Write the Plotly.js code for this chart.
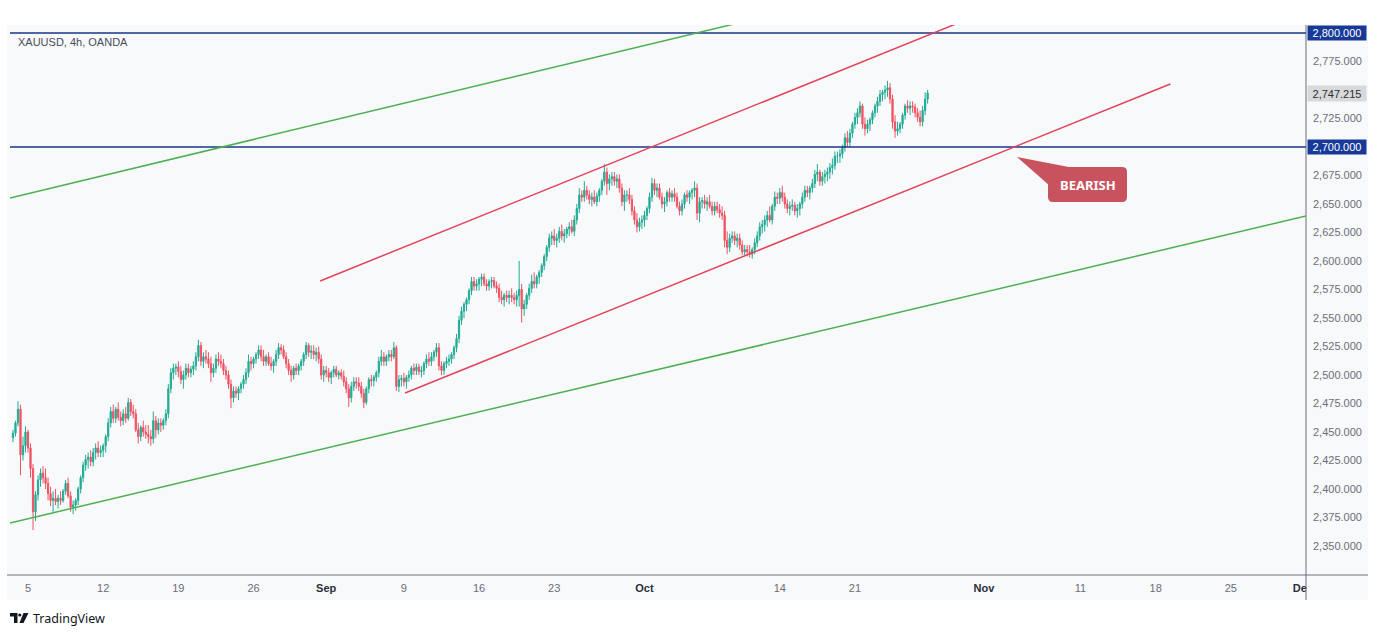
<!DOCTYPE html>
<html><head><meta charset="utf-8">
<script src="https://cdn.plot.ly/plotly-3.0.1.min.js"></script>
<style>html,body{margin:0;padding:0;background:#fff}#chart{width:1378px;height:635px}</style>
</head><body><div id="chart"></div>
<script>
// ---------- DATA ----------
const tradingDays = [
 "2024-08-02",
 "2024-08-05","2024-08-06","2024-08-07","2024-08-08","2024-08-09",
 "2024-08-12","2024-08-13","2024-08-14","2024-08-15","2024-08-16",
 "2024-08-19","2024-08-20","2024-08-21","2024-08-22","2024-08-23",
 "2024-08-26","2024-08-27","2024-08-28","2024-08-29","2024-08-30",
 "2024-09-02","2024-09-03","2024-09-04","2024-09-05","2024-09-06",
 "2024-09-09","2024-09-10","2024-09-11","2024-09-12","2024-09-13",
 "2024-09-16","2024-09-17","2024-09-18","2024-09-19","2024-09-20",
 "2024-09-23","2024-09-24","2024-09-25","2024-09-26","2024-09-27",
 "2024-09-30","2024-10-01","2024-10-02","2024-10-03","2024-10-04",
 "2024-10-07","2024-10-08","2024-10-09","2024-10-10","2024-10-11",
 "2024-10-14","2024-10-15","2024-10-16","2024-10-17","2024-10-18",
 "2024-10-21","2024-10-22","2024-10-23","2024-10-24","2024-10-25"
];
const barHours = ["00:00","04:00","08:00","12:00","16:00","20:00"];

const openP = [
 2445,2449,2458,2470,2430,2438,
 2450,2436,2418,2380,2395,2408,
 2414,2410,2405,2396,2390,2392,
 2389,2392,2390,2398,2405,2394,
 2384,2386,2390,2400,2410,2421,
 2426,2428,2424,2432,2436,2432,
 2434,2438,2446,2458,2468,2462,
 2470,2463,2460,2466,2462,2476,
 2468,2466,2452,2446,2454,2450,
 2448,2446,2444,2460,2452,2458,
 2456,2460,2466,2488,2502,2506,
 2507,2503,2496,2500,2506,2502,
 2505,2508,2516,2526,2512,2516,
 2514,2510,2502,2506,2514,2512,
 2510,2504,2500,2492,2480,2486,
 2484,2488,2492,2496,2502,2512,
 2510,2514,2518,2522,2516,2512,
 2516,2510,2508,2512,2518,2524,
 2522,2516,2510,2504,2500,2506,
 2504,2508,2512,2518,2526,2520,
 2521,2518,2520,2514,2500,2504,
 2502,2498,2502,2505,2500,2502,
 2499,2494,2488,2480,2490,2494,
 2493,2490,2484,2476,2488,2496,
 2495,2498,2502,2512,2516,2512,
 2516,2518,2516,2524,2490,2496,
 2497,2494,2498,2500,2506,2504,
 2507,2503,2504,2510,2514,2512,
 2516,2520,2524,2508,2504,2510,
 2512,2514,2518,2524,2532,2548,
 2556,2562,2566,2574,2582,2578,
 2580,2584,2586,2580,2578,2582,
 2583,2578,2576,2568,2566,2570,
 2568,2570,2568,2566,2570,2575,
 2558,2562,2570,2576,2582,2580,
 2586,2590,2596,2604,2612,2620,
 2622,2618,2620,2626,2622,2624,
 2628,2630,2626,2636,2646,2658,
 2656,2662,2658,2654,2656,2652,
 2657,2662,2670,2678,2668,2672,
 2674,2670,2672,2664,2652,2658,
 2658,2654,2644,2636,2630,2634,
 2636,2640,2646,2656,2668,2662,
 2664,2656,2650,2652,2660,2656,
 2659,2656,2648,2644,2650,2658,
 2656,2660,2662,2664,2642,2652,
 2653,2650,2652,2648,2644,2648,
 2645,2642,2640,2618,2612,2620,
 2622,2618,2620,2614,2608,2610,
 2608,2606,2610,2616,2622,2630,
 2632,2636,2640,2636,2648,2656,
 2655,2660,2656,2650,2646,2648,
 2649,2644,2646,2650,2656,2662,
 2660,2664,2668,2676,2678,2670,
 2674,2676,2678,2682,2684,2692,
 2692,2694,2700,2708,2704,2712,
 2720,2726,2730,2736,2720,2716,
 2720,2724,2730,2736,2740,2746,
 2748,2750,2752,2742,2722,2714,
 2716,2720,2728,2736,2734,2736,
 2735,2730,2726,2722,2732,2742
];
const highP = [
 2452,2460,2477,2474,2446,2455,
 2452,2440,2422,2398,2412,2418,
 2420,2418,2410,2402,2398,2400,
 2395,2398,2400,2408,2410,2398,
 2390,2392,2402,2412,2424,2430,
 2432,2434,2436,2440,2442,2438,
 2440,2448,2462,2472,2474,2472,
 2476,2468,2470,2472,2480,2479,
 2474,2470,2458,2456,2460,2456,
 2456,2452,2468,2464,2462,2462,
 2462,2470,2492,2506,2510,2510,
 2512,2508,2504,2510,2510,2508,
 2512,2520,2531,2529,2520,2522,
 2520,2516,2510,2518,2520,2518,
 2514,2508,2504,2496,2490,2490,
 2490,2494,2500,2506,2518,2516,
 2516,2520,2526,2526,2522,2518,
 2520,2516,2514,2522,2528,2527,
 2526,2520,2514,2508,2508,2510,
 2510,2514,2520,2529,2528,2526,
 2526,2524,2525,2518,2508,2508,
 2506,2504,2508,2508,2504,2505,
 2504,2498,2492,2494,2498,2498,
 2498,2494,2488,2490,2498,2500,
 2500,2504,2516,2522,2520,2518,
 2522,2522,2529,2526,2500,2500,
 2502,2500,2504,2508,2510,2510,
 2510,2508,2512,2518,2520,2520,
 2522,2528,2528,2512,2512,2516,
 2518,2520,2526,2536,2552,2560,
 2564,2568,2576,2586,2586,2584,
 2586,2589,2589,2584,2584,2586,
 2586,2582,2580,2574,2572,2574,
 2574,2576,2572,2574,2600,2580,
 2566,2572,2580,2588,2590,2588,
 2592,2598,2606,2614,2624,2626,
 2628,2624,2630,2632,2628,2630,
 2634,2636,2640,2650,2664,2662,
 2670,2666,2662,2660,2662,2660,
 2664,2672,2685,2682,2676,2678,
 2678,2676,2676,2668,2662,2662,
 2664,2658,2648,2642,2638,2640,
 2644,2648,2660,2673,2672,2668,
 2668,2660,2656,2662,2664,2662,
 2664,2660,2652,2654,2660,2662,
 2662,2664,2670,2668,2656,2656,
 2658,2656,2658,2652,2652,2652,
 2650,2648,2644,2626,2624,2626,
 2626,2624,2624,2618,2614,2614,
 2614,2612,2620,2626,2634,2636,
 2640,2644,2648,2650,2661,2660,
 2664,2666,2660,2654,2652,2654,
 2652,2650,2652,2660,2666,2666,
 2666,2672,2680,2685,2680,2678,
 2680,2682,2686,2690,2696,2696,
 2698,2702,2712,2714,2716,2722,
 2730,2734,2740,2738,2726,2724,
 2726,2732,2738,2744,2750,2750,
 2754,2758,2756,2746,2728,2722,
 2722,2730,2738,2741,2740,2740,
 2738,2734,2732,2736,2748,2750
];
const lowP = [
 2441,2446,2455,2412,2425,2432,
 2432,2410,2364,2372,2390,2402,
 2405,2400,2390,2385,2380,2386,
 2383,2386,2388,2395,2392,2380,
 2378,2381,2386,2396,2406,2416,
 2418,2420,2420,2426,2428,2428,
 2428,2432,2442,2454,2458,2458,
 2460,2455,2456,2458,2460,2464,
 2462,2450,2440,2442,2446,2444,
 2440,2438,2440,2445,2448,2450,
 2452,2456,2462,2484,2496,2500,
 2498,2492,2488,2496,2498,2498,
 2500,2504,2512,2508,2506,2510,
 2506,2494,2498,2502,2508,2506,
 2500,2496,2488,2471,2476,2480,
 2478,2484,2488,2492,2498,2504,
 2506,2510,2514,2512,2508,2508,
 2508,2504,2502,2508,2514,2518,
 2514,2506,2500,2494,2496,2500,
 2500,2504,2508,2514,2516,2514,
 2514,2512,2510,2496,2494,2498,
 2494,2492,2498,2498,2496,2496,
 2490,2484,2472,2476,2486,2488,
 2486,2480,2471,2474,2484,2490,
 2490,2494,2498,2508,2508,2508,
 2512,2512,2514,2486,2485,2490,
 2490,2488,2494,2496,2500,2500,
 2500,2498,2500,2506,2508,2508,
 2512,2516,2504,2500,2500,2506,
 2508,2510,2514,2520,2528,2544,
 2550,2556,2562,2570,2574,2574,
 2574,2578,2578,2574,2574,2576,
 2576,2572,2564,2562,2560,2564,
 2562,2564,2562,2560,2560,2546,
 2552,2558,2566,2572,2576,2576,
 2580,2586,2592,2600,2608,2614,
 2614,2612,2616,2618,2616,2620,
 2622,2624,2622,2632,2642,2652,
 2652,2654,2650,2648,2650,2648,
 2652,2658,2666,2658,2662,2666,
 2666,2664,2660,2648,2644,2652,
 2650,2640,2632,2625,2626,2628,
 2630,2636,2642,2652,2658,2656,
 2654,2646,2643,2648,2652,2652,
 2652,2646,2640,2640,2646,2652,
 2650,2654,2656,2636,2634,2646,
 2646,2644,2646,2640,2640,2642,
 2638,2636,2612,2606,2608,2616,
 2614,2612,2610,2605,2604,2604,
 2603,2602,2606,2612,2618,2624,
 2626,2630,2634,2632,2644,2650,
 2650,2652,2646,2642,2640,2644,
 2640,2638,2640,2646,2652,2656,
 2654,2660,2664,2670,2666,2666,
 2668,2670,2672,2676,2680,2686,
 2686,2690,2696,2700,2700,2708,
 2716,2720,2726,2716,2710,2712,
 2714,2720,2726,2730,2736,2740,
 2742,2744,2738,2716,2708,2710,
 2712,2716,2724,2730,2728,2730,
 2726,2722,2718,2718,2728,2738
];
const closeP = [
 2449,2458,2470,2430,2438,2450,
 2436,2418,2380,2395,2408,2414,
 2410,2405,2396,2390,2392,2389,
 2392,2390,2398,2405,2394,2384,
 2386,2390,2400,2410,2421,2426,
 2428,2424,2432,2436,2432,2434,
 2438,2446,2458,2468,2462,2470,
 2463,2460,2466,2462,2476,2468,
 2466,2452,2446,2454,2450,2448,
 2446,2444,2460,2452,2458,2456,
 2460,2466,2488,2502,2506,2507,
 2503,2496,2500,2506,2502,2505,
 2508,2516,2526,2512,2516,2514,
 2510,2502,2506,2514,2512,2510,
 2504,2500,2492,2480,2486,2484,
 2488,2492,2496,2502,2512,2510,
 2514,2518,2522,2516,2512,2516,
 2510,2508,2512,2518,2524,2522,
 2516,2510,2504,2500,2506,2504,
 2508,2512,2518,2526,2520,2521,
 2518,2520,2514,2500,2504,2502,
 2498,2502,2505,2500,2502,2499,
 2494,2488,2480,2490,2494,2493,
 2490,2484,2476,2488,2496,2495,
 2498,2502,2512,2516,2512,2516,
 2518,2516,2524,2490,2496,2497,
 2494,2498,2500,2506,2504,2507,
 2503,2504,2510,2514,2512,2516,
 2520,2524,2508,2504,2510,2512,
 2514,2518,2524,2532,2548,2556,
 2562,2566,2574,2582,2578,2580,
 2584,2586,2580,2578,2582,2583,
 2578,2576,2568,2566,2570,2568,
 2570,2568,2566,2570,2575,2558,
 2562,2570,2576,2582,2580,2586,
 2590,2596,2604,2612,2620,2622,
 2618,2620,2626,2622,2624,2628,
 2630,2626,2636,2646,2658,2656,
 2662,2658,2654,2656,2652,2657,
 2662,2670,2678,2668,2672,2674,
 2670,2672,2664,2652,2658,2658,
 2654,2644,2636,2630,2634,2636,
 2640,2646,2656,2668,2662,2664,
 2656,2650,2652,2660,2656,2659,
 2656,2648,2644,2650,2658,2656,
 2660,2662,2664,2642,2652,2653,
 2650,2652,2648,2644,2648,2645,
 2642,2640,2618,2612,2620,2622,
 2618,2620,2614,2608,2610,2608,
 2606,2610,2616,2622,2630,2632,
 2636,2640,2636,2648,2656,2655,
 2660,2656,2650,2646,2648,2649,
 2644,2646,2650,2656,2662,2660,
 2664,2668,2676,2678,2670,2674,
 2676,2678,2682,2684,2692,2692,
 2694,2700,2708,2704,2712,2720,
 2726,2730,2736,2720,2716,2720,
 2724,2730,2736,2740,2746,2748,
 2750,2752,2742,2722,2714,2716,
 2720,2728,2736,2734,2736,2735,
 2730,2726,2722,2732,2742,2747.215
];

const xTickDates  = ["2024-08-05","2024-08-12","2024-08-19","2024-08-26","2024-08-30 20:00","2024-09-09","2024-09-16","2024-09-23","2024-10-01","2024-10-14","2024-10-21","2024-10-31 14:00","2024-11-11","2024-11-18","2024-11-25","2024-11-29 14:00"];
const xTickLabels = ["5","12","19","26","Sep","9","16","23","Oct","14","21","Nov","11","18","25","De"];
const monthLabels = ["Sep","Oct","Nov","De"];
const yTickValues = [2350,2375,2400,2425,2450,2475,2500,2525,2550,2575,2600,2625,2650,2675,2725,2775];
const levels = [2800, 2700];
const trendLines = [
  {from:["2024-08-01 19:15",2655.3], to:["2024-10-15 08:38",2821.8], color:"#4caf50"},
  {from:["2024-08-01 19:15",2370.2], to:["2024-12-02 00:00",2639.5], color:"#4caf50"},
  {from:["2024-08-30 10:19",2582.5], to:["2024-10-31 08:10",2816.6], color:"#e2445c"},
  {from:["2024-09-09 01:55",2484.2], to:["2024-11-18 23:31",2755.3], color:"#e2445c"}
];
const symbolText = "XAUUSD, 4h, OANDA";
const calloutText = "BEARISH";
const brandText = "TradingView";

// ---------- BUILD ----------
const xDates = [];
tradingDays.forEach(d => barHours.forEach(h => xDates.push(d + " " + h)));

const FONT = "Liberation Sans, Arial, sans-serif";
const W = 1378, H = 635, ML = 10, MR = 72, MT = 25, MB = 60;
const PW = W - ML - MR, PH = H - MT - MB;
const px = x => (x - ML) / PW;           // pixel -> paper x
const py = y => (H - MB - y) / PH;       // pixel -> paper y

function roundRect(x0, y0, x1, y1, r) {
  const P = (x, y) => px(x) + "," + py(y);
  return "M" + P(x0 + r, y0) + " L" + P(x1 - r, y0) + " Q" + P(x1, y0) + " " + P(x1, y0 + r) +
         " L" + P(x1, y1 - r) + " Q" + P(x1, y1) + " " + P(x1 - r, y1) +
         " L" + P(x0 + r, y1) + " Q" + P(x0, y1) + " " + P(x0, y1 - r) +
         " L" + P(x0, y0 + r) + " Q" + P(x0, y0) + " " + P(x0 + r, y0) + " Z";
}
function poly(pts) {
  return "M" + pts.map(p => px(p[0]) + "," + py(p[1])).join(" L") + " Z";
}

const panelColor = "#f8f9fb";
const axisLineColor = "#6b6e78";
const levelColor = "#1b3487";
const levelBox = "#173a99";

const candle = {
  type: "candlestick", x: xDates, open: openP, high: highP, low: lowP, close: closeP,
  increasing: {line: {color: "#22ab94", width: 1}, fillcolor: "#22ab94"},
  decreasing: {line: {color: "#f05262", width: 1}, fillcolor: "#f05262"},
  whiskerwidth: 0, hoverinfo: "skip", showlegend: false
};

const shapes = [
  {type: "rect", xref: "paper", yref: "paper", x0: px(7), x1: px(1368), y0: py(600), y1: py(25),
   fillcolor: panelColor, line: {width: 0}, layer: "below"},
  {type: "line", xref: "paper", yref: "paper", x0: px(7), x1: px(1368), y0: 0, y1: 0,
   line: {color: axisLineColor, width: 1}},
  {type: "line", xref: "paper", yref: "paper", x0: 1, x1: 1, y0: py(600), y1: 1,
   line: {color: axisLineColor, width: 1}}
];
levels.forEach(v => shapes.push({type: "line", xref: "paper", yref: "y", x0: 0, x1: 1, y0: v, y1: v,
  line: {color: levelColor, width: 1.5}}));
trendLines.forEach(t => shapes.push({type: "line", xref: "x", yref: "y",
  x0: t.from[0], y0: t.from[1], x1: t.to[0], y1: t.to[1], line: {color: t.color, width: 1.5}}));
// callout
shapes.push({type: "path", xref: "paper", yref: "paper", path: poly([[1017,157],[1074,168],[1050,186]]),
  fillcolor: "#c8525e", line: {width: 0}});
shapes.push({type: "path", xref: "paper", yref: "paper", path: roundRect(1048,167,1127,202,5),
  fillcolor: "#c8525e", line: {width: 0}});
// TradingView logo
shapes.push({type: "path", xref: "paper", yref: "paper",
  path: poly([[10,613],[17.5,613],[17.5,623],[14,623],[14,616.5],[10,616.5]]),
  fillcolor: "#131722", line: {width: 0}});
shapes.push({type: "circle", xref: "paper", yref: "paper", x0: px(18.2), x1: px(21.4), y0: py(616.6), y1: py(613.4),
  fillcolor: "#131722", line: {width: 0}});
shapes.push({type: "path", xref: "paper", yref: "paper",
  path: poly([[23.5,613],[28.5,613],[23.5,623],[19.5,623]]),
  fillcolor: "#131722", line: {width: 0}});

const fmt = v => v.toLocaleString("en-US", {minimumFractionDigits: 3, maximumFractionDigits: 3});
const annotations = [
  {xref: "paper", yref: "paper", x: px(16), y: py(42), xanchor: "left", yanchor: "middle",
   text: symbolText, showarrow: false, font: {size: 11, color: "#4a4c55", family: FONT}},
  {xref: "paper", yref: "paper", x: px(1087.5), y: py(184.5), xanchor: "center", yanchor: "middle",
   text: "<b>" + calloutText + "</b>", showarrow: false, font: {size: 13, color: "#ffffff", family: "Noto Sans, sans-serif"}},
  {xref: "paper", yref: "paper", x: px(31), y: py(618), xanchor: "left", yanchor: "middle",
   text: brandText, showarrow: false, font: {size: 12.5, color: "#131722", family: "Noto Sans, sans-serif"}}
];
levels.forEach(v => annotations.push({xref: "paper", yref: "y", x: 1, y: v, xanchor: "left", yanchor: "middle",
  xshift: 1, text: fmt(v), showarrow: false, bgcolor: levelBox, width: 58, height: 14, borderpad: 0,
  font: {size: 11, color: "#ffffff", family: FONT}}));
const lastClose = closeP[closeP.length - 1];
annotations.push({xref: "paper", yref: "y", x: 1, y: lastClose, xanchor: "left", yanchor: "middle",
  xshift: 1, text: fmt(lastClose), showarrow: false, bgcolor: "#d8d9db", width: 58, height: 15, borderpad: 0,
  font: {size: 11, color: "#2a2e39", family: FONT}});

const layout = {
  width: W, height: H,
  margin: {l: ML, r: MR, t: MT, b: MB, pad: 0},
  paper_bgcolor: "#ffffff", plot_bgcolor: panelColor,
  font: {family: FONT, size: 11, color: "#6b6e78"},
  showlegend: false, hovermode: false, dragmode: false,
  xaxis: {
    type: "date", range: ["2024-08-01 19:15", "2024-12-02 00:00"],
    rangebreaks: [{bounds: ["sat", "mon"]}],
    rangeslider: {visible: false},
    tickvals: xTickDates,
    ticktext: xTickLabels.map(t => monthLabels.includes(t) ? '<span style="color:#2a2e39"><b>' + t + '</b></span>' : t),
    tickfont: {size: 11, color: "#6b6e78", family: FONT},
    showgrid: false, zeroline: false, showline: false, ticks: "", ticklabelstandoff: 5, fixedrange: true
  },
  yaxis: {
    side: "right", range: [2324.6, 2807],
    tickvals: yTickValues, tickformat: ",.3f",
    tickfont: {size: 11, color: "#6b6e78", family: FONT},
    showgrid: false, zeroline: false, showline: false, ticks: "", ticklabelstandoff: 6, fixedrange: true
  },
  shapes: shapes,
  annotations: annotations
};

Plotly.newPlot("chart", [candle], layout, {displayModeBar: false, staticPlot: true});
</script>
</body></html>
